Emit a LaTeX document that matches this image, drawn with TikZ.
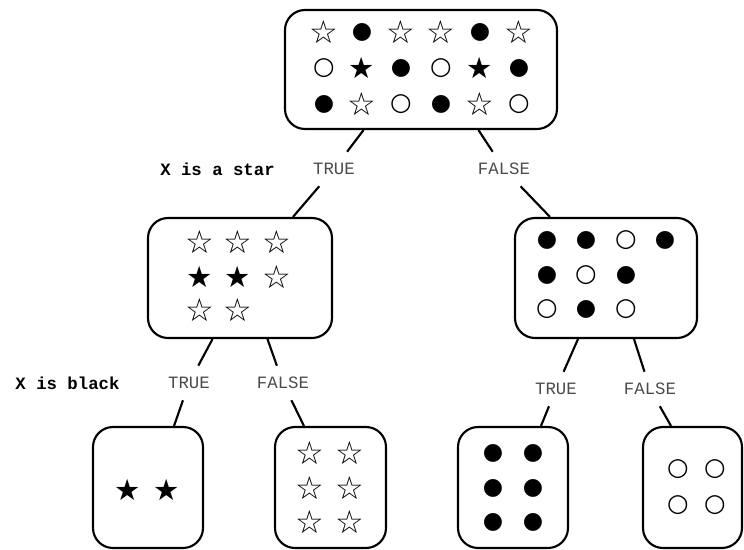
\documentclass[tikz,border=0pt]{standalone}
\usepackage{fontspec}
\newfontfamily\monofont{Liberation Mono}
\newfontfamily\symfont{DejaVu Sans}
\begin{document}
\begin{tikzpicture}[x=0.75pt,y=-0.75pt,
  box/.style={draw, line width=1.6pt, rounded corners=15pt, inner sep=0pt},
  conn/.style={line width=1.6pt},
  lab/.style={font=\monofont\fontsize{13}{15}\selectfont, text=black!70, minimum height=25.5pt, inner xsep=2pt},
  cond/.style={font=\monofont\bfseries\fontsize{13}{15}\selectfont, inner sep=1pt},
  sym/.style={inner sep=0pt},
  sws/.style={sym, font=\symfont\fontsize{24}{24}\selectfont, node contents={☆}},
  sbs/.style={sym, font=\symfont\fontsize{22}{22}\selectfont, node contents={★}},
  swc/.style={sym, font=\symfont\fontsize{18.5}{18}\selectfont, node contents={○}},
  sbc/.style={sym, font=\symfont\fontsize{17.5}{18}\selectfont, node contents={●}}]
\useasboundingbox (0,0) rectangle (744,550);

% boxes
\node[box, minimum width=204pt, minimum height=89.25pt] (top) at (421,69.5) {};
\node[box, minimum width=138pt, minimum height=90pt] (midL) at (240,278) {};
\node[box, minimum width=136.5pt, minimum height=90pt] (midR) at (606,278) {};
\node[box, minimum width=82.5pt, minimum height=90.75pt] (botA) at (148,487.5) {};
\node[box, minimum width=83.25pt, minimum height=90.75pt] (botB) at (330.5,487.5) {};
\node[box, minimum width=82.5pt, minimum height=90.75pt] (botC) at (513,487.5) {};
\node[box, minimum width=74.25pt, minimum height=90.75pt] (botD) at (692.5,487.5) {};

% symbols
\foreach \x/\y/\t [count=\i] in {
  324/32/sws, 362/32/sbc, 401/32/sws, 441/32/sws, 480/32/sbc, 519/32/sws,
  324/68/swc, 362/68/sbs, 401/68/sbc, 441/68/swc, 480/68/sbs, 519/68/sbc,
  324/104/sbc, 362/104/sws, 401/104/swc, 441/104/sbc, 480/104/sws, 519/104/swc,
  200/242/sws, 238/242/sws, 277/242/sws,
  200/277/sbs, 238/277/sbs, 277/277/sws,
  200/310/sws, 238/310/sws,
  547/240/sbc, 586/240/sbc, 626/240/swc, 665/240/sbc,
  547/275/sbc, 586/275/swc, 626/275/sbc,
  547/309/swc, 586/309/sbc, 626/309/swc,
  128/490/sbs, 167/490/sbs,
  310/453/sws, 350/453/sws, 310/488/sws, 350/488/sws, 310/522/sws, 350/522/sws,
  493/453/sbc, 533/453/sbc, 493/488/sbc, 533/488/sbc, 493/522/sbc, 533/522/sbc,
  678/469/swc, 715/469/swc, 678/505/swc, 715/505/swc}
  \node[name=s\i, at={(\x,\y)}, \t];

% labels
\node[lab] (t1) at (334,169) {TRUE};
\node[lab] (f1) at (504,169) {FALSE};
\node[cond] (c1) at (217.5,169) {X is a star};
\node[lab] (t2) at (189,383) {TRUE};
\node[lab] (f2) at (283,383) {FALSE};
\node[cond] (c2) at (67.5,383) {X is black};
\node[lab] (t3) at (556,389) {TRUE};
\node[lab] (f3) at (650,389) {FALSE};

% connectors
\draw[conn] ([xshift=-43.1pt]top.south) -- (t1);
\draw[conn] (t1) -- ([xshift=39.75pt]midL.north);
\draw[conn] ([xshift=43.1pt]top.south) -- (f1);
\draw[conn] (f1) -- ([xshift=-42pt]midR.north);
\draw[conn] ([xshift=-20.6pt]midL.south) -- (t2);
\draw[conn] ([xshift=20.6pt]midL.south) -- (f2);
\draw[conn] (t2) -- ([xshift=19.5pt]botA.north);
\draw[conn] (f2) -- ([xshift=-19.9pt]botB.north);
\draw[conn] ([xshift=-21pt]midR.south) -- (t3);
\draw[conn] ([xshift=21pt]midR.south) -- (f3);
\draw[conn] (t3) -- ([xshift=21pt]botC.north);
\draw[conn] (f3) -- ([xshift=-16.1pt]botD.north);
\end{tikzpicture}
\end{document}
